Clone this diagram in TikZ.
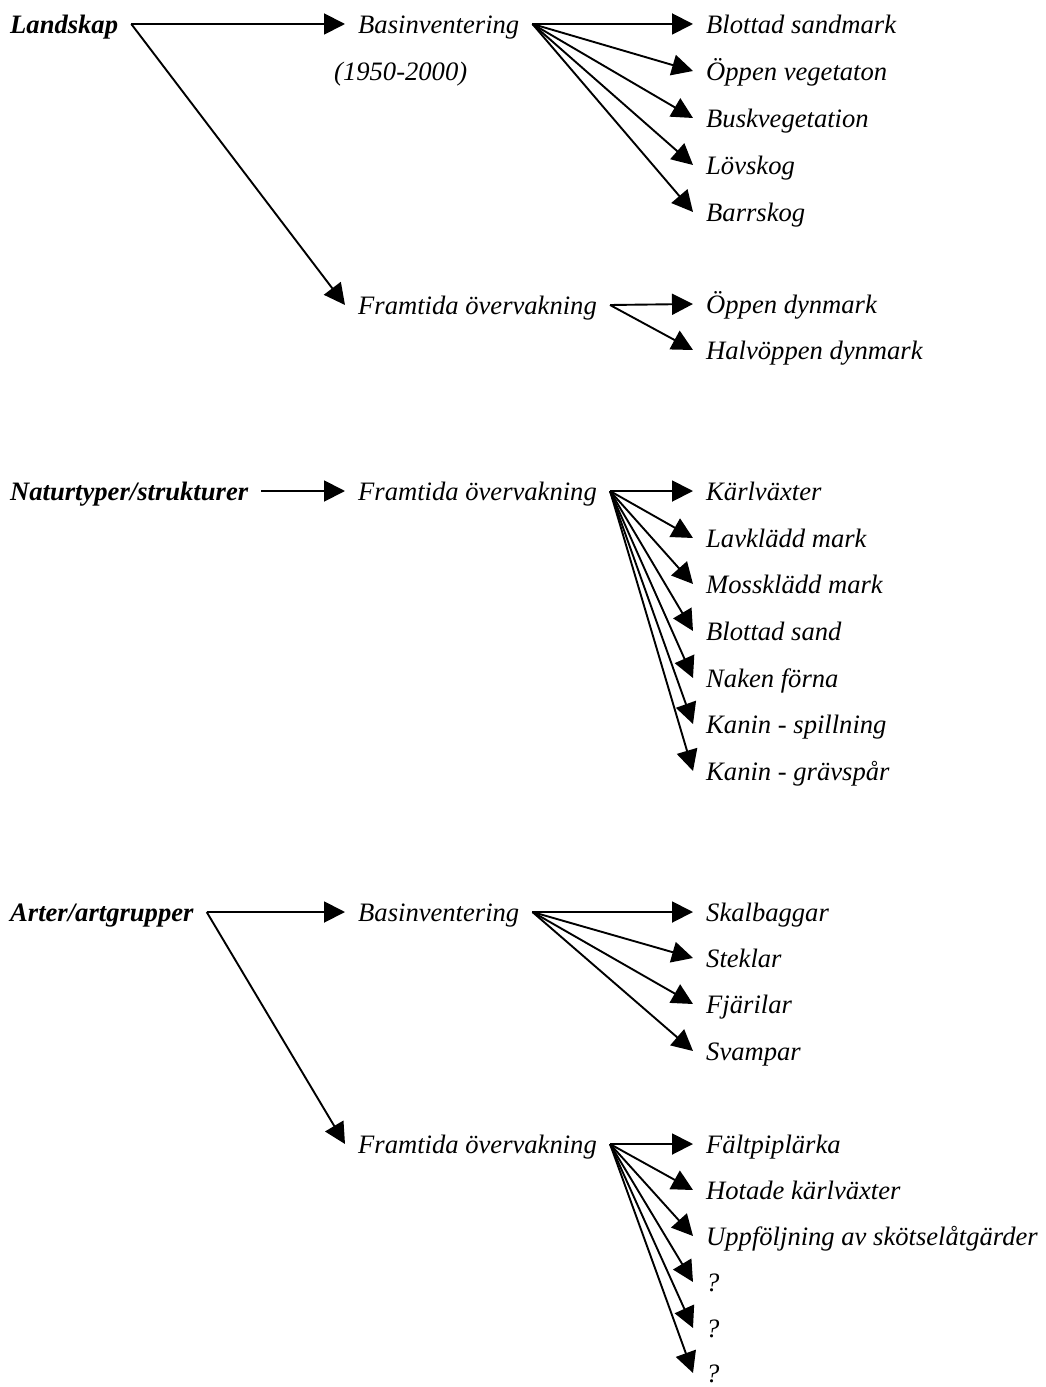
\documentclass[tikz,border=0pt]{standalone}
\usepackage{fontspec}
\setmainfont{Liberation Serif}
\usetikzlibrary{arrows.meta}

\begin{document}
\begin{tikzpicture}[x=1bp,y=-1bp,
  box/.style={anchor=west,inner xsep=13bp,inner ysep=0pt,text height=20bp,text depth=1.5bp,
    font=\fontsize{26.6bp}{32bp}\selectfont\itshape},
  head/.style={box,font=\fontsize{26.6bp}{32bp}\selectfont\bfseries\itshape},
  arr/.style={line width=1.9bp,-{Triangle[length=21bp,width=21bp]}}]
\useasboundingbox (0,0) rectangle (1045,1387);
% Landskap
\node[head] (land) at (-3,24) {Landskap};
\node[box] (bas1) at (345,24) {Basinventering};
\node[box] (year) at (321,71) {(1950-2000)};
\node[box] (fram1) at (345,305) {Framtida övervakning};
\node[box] (a1) at (693,24) {Blottad sandmark};
\node[box] (a2) at (693,71) {Öppen vegetaton};
\node[box] (a3) at (693,118) {Buskvegetation};
\node[box] (a4) at (693,165) {Lövskog};
\node[box] (a5) at (693,212) {Barrskog};
\node[box] (b1) at (693,304) {Öppen dynmark};
\node[box] (b2) at (693,350) {Halvöppen dynmark};
\draw[arr] (land.east)--(bas1.west);
\draw[arr] (land.east)--(fram1.west);
\draw[arr] (bas1.east)--(a1.west);
\draw[arr] (bas1.east)--(a2.west);
\draw[arr] (bas1.east)--(a3.west);
\draw[arr] (bas1.east)--(a4.west);
\draw[arr] (bas1.east)--(a5.west);
\draw[arr] (fram1.east)--(b1.west);
\draw[arr] (fram1.east)--(b2.west);
% Naturtyper/strukturer
\node[head] (natur) at (-3,491) {Naturtyper/strukturer};
\node[box] (fram2) at (345,491) {Framtida övervakning};
\node[box] (c1) at (693,491) {Kärlväxter};
\node[box] (c2) at (693,538) {Lavklädd mark};
\node[box] (c3) at (693,584) {Mossklädd mark};
\node[box] (c4) at (693,631) {Blottad sand};
\node[box] (c5) at (693,678) {Naken förna};
\node[box] (c6) at (693,724) {Kanin - spillning};
\node[box] (c7) at (693,771) {Kanin - grävspår};
\draw[arr] (natur.east)--(fram2.west);
\draw[arr] (fram2.east)--(c1.west);
\draw[arr] (fram2.east)--(c2.west);
\draw[arr] (fram2.east)--(c3.west);
\draw[arr] (fram2.east)--(c4.west);
\draw[arr] (fram2.east)--(c5.west);
\draw[arr] (fram2.east)--(c6.west);
\draw[arr] (fram2.east)--(c7.west);
% Arter/artgrupper
\node[head] (arter) at (-3,912) {Arter/artgrupper};
\node[box] (bas3) at (345,912) {Basinventering};
\node[box] (fram3) at (345,1144) {Framtida övervakning};
\node[box] (d1) at (693,912) {Skalbaggar};
\node[box] (d2) at (693,958) {Steklar};
\node[box] (d3) at (693,1004) {Fjärilar};
\node[box] (d4) at (693,1051) {Svampar};
\node[box] (e1) at (693,1144) {Fältpiplärka};
\node[box] (e2) at (693,1190) {Hotade kärlväxter};
\node[box] (e3) at (693,1236) {Uppföljning av skötselåtgärder};
\node[box] (e4) at (693,1282) {?};
\node[box] (e5) at (693,1328) {?};
\node[box] (e6) at (693,1373) {?};
\draw[arr] (arter.east)--(bas3.west);
\draw[arr] (arter.east)--(fram3.west);
\draw[arr] (bas3.east)--(d1.west);
\draw[arr] (bas3.east)--(d2.west);
\draw[arr] (bas3.east)--(d3.west);
\draw[arr] (bas3.east)--(d4.west);
\draw[arr] (fram3.east)--(e1.west);
\draw[arr] (fram3.east)--(e2.west);
\draw[arr] (fram3.east)--(e3.west);
\draw[arr] (fram3.east)--(e4.west);
\draw[arr] (fram3.east)--(e5.west);
\draw[arr] (fram3.east)--(e6.west);
\end{tikzpicture}
\end{document}
